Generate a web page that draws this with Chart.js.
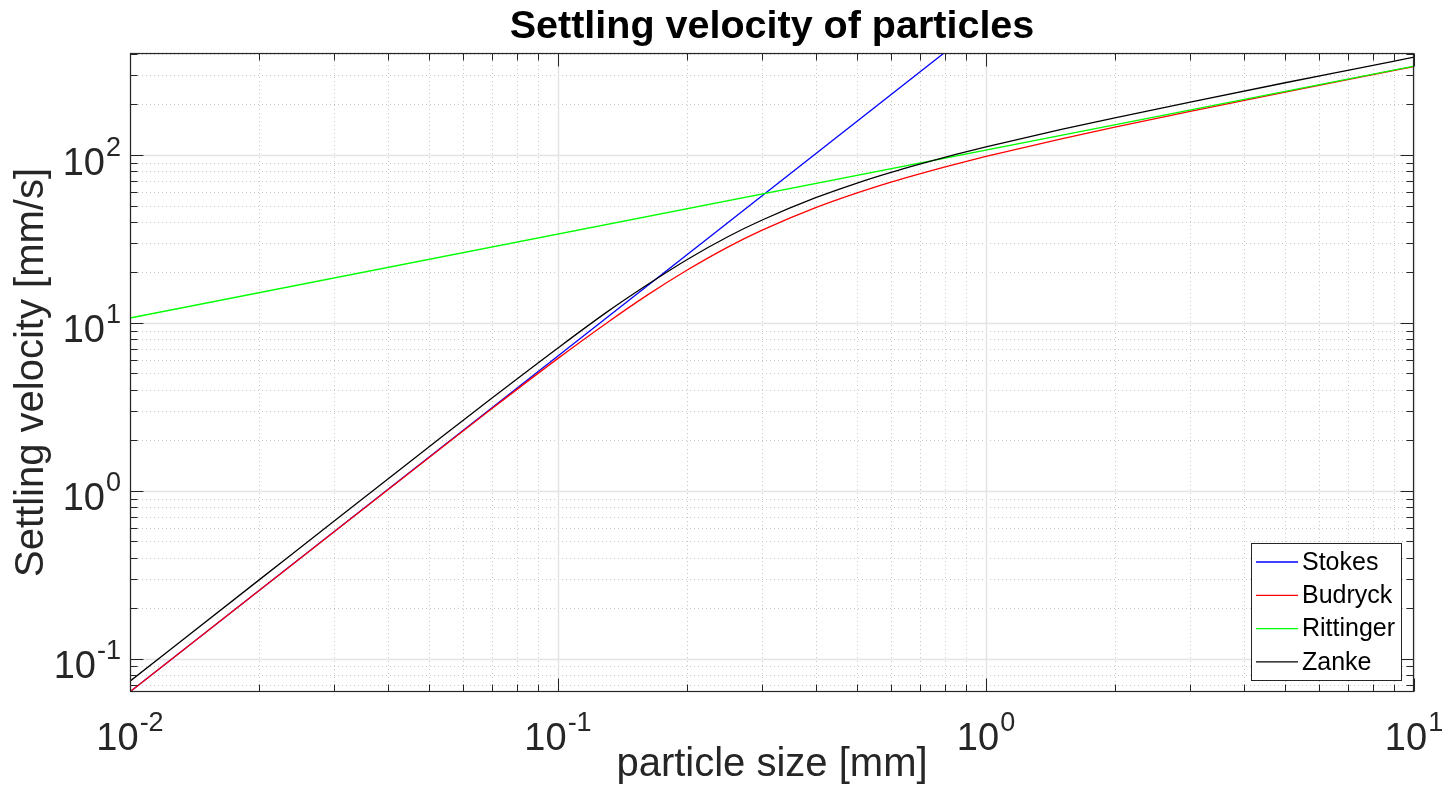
<!DOCTYPE html>
<html>
<head>
<meta charset="utf-8">
<script src="https://cdn.jsdelivr.net/npm/chart.js@4/dist/chart.umd.min.js"></script>
<style>
html,body{margin:0;padding:0;background:#ffffff;}
#wrap{width:1452px;height:809px;position:relative;}
canvas{display:block;}
</style>
</head>
<body>
<div id="wrap"><canvas id="c" width="1452" height="809"></canvas></div>
<script>
// ---------------- data ----------------
const titleText = 'Settling velocity of particles';
const xLabelText = 'particle size [mm]';
const yLabelText = 'Settling velocity [mm/s]';

const seriesNames  = ['Stokes', 'Budryck', 'Rittinger', 'Zanke'];
const seriesColors = ['#0000ff', '#ff0000', '#00ff00', '#000000'];

// particle size [mm] for the curved series
const sizes   = [0.01, 0.02, 0.03, 0.05, 0.07, 0.1, 0.13, 0.16, 0.2, 0.25, 0.3, 0.4, 0.5, 0.6, 0.7, 0.85, 1, 1.5, 2, 3, 5, 7, 10];
// settling velocity [mm/s]
const budryck = [0.0636, 0.254, 0.571, 1.58, 3.08, 6.15, 10.0, 14.4, 20.6, 28.4, 35.7, 48.6, 59.5, 69.0, 77.3, 88.3, 98.0, 124.6, 146.4, 181.7, 236.5, 280.7, 336];
const zanke   = [0.0736, 0.294, 0.662, 1.83, 3.56, 7.1, 11.6, 16.6, 23.8, 32.7, 41.0, 55.7, 68.1, 78.8, 88.2, 100.7, 111.7, 142.0, 166.6, 206.8, 269.3, 319.5, 382.6];

// straight lines on the log-log plot
const stokesSizes    = [0.01, 1];
const stokes         = [0.0636, 636];
const rittingerSizes = [0.01, 10];
const rittinger      = [10.7, 338];

// axes
const xMin = 0.01, xMax = 10;
const yMin = 0.0634, yMax = 405;
const xMajorTicks = [0.01, 0.1, 1, 10];
const xTickExps   = ['-2', '-1', '0', '1'];
const yMajorTicks = [0.1, 1, 10, 100];
const yTickExps   = ['-1', '0', '1', '2'];
const tickBase    = '10';

// ---------------- helpers ----------------
function pairs(xs, ys) { return xs.map((v, i) => ({x: v, y: ys[i]})); }

function minorValues(min, max) {
  const out = [];
  const e0 = Math.floor(Math.log10(min)), e1 = Math.ceil(Math.log10(max));
  for (let e = e0; e <= e1; e++) {
    for (let m = 2; m <= 9; m++) {
      const v = Number((m * Math.pow(10, e)).toPrecision(12));
      if (v > min && v < max) out.push(v);
    }
  }
  return out;
}

const AX = '#262626';
const FONT = '"Liberation Sans", Arial, Helvetica, sans-serif';

function drawPower(ctx, base, exp, anchorX, baseY, align) {
  ctx.font = '38px ' + FONT;
  const wb = ctx.measureText(base).width;
  ctx.font = '27px ' + FONT;
  const we = ctx.measureText(exp).width;
  const total = wb + we + 1;
  let x0 = align === 'center' ? anchorX - total / 2 : anchorX - total;
  ctx.textAlign = 'left';
  ctx.textBaseline = 'alphabetic';
  ctx.fillStyle = AX;
  ctx.font = '38px ' + FONT;
  ctx.fillText(base, x0, baseY);
  ctx.font = '27px ' + FONT;
  ctx.fillText(exp, x0 + wb + 1, baseY - 19);
}

const matlabAxes = {
  id: 'matlabAxes',
  beforeDatasetsDraw(chart) {
    const {ctx, chartArea: a, scales} = chart;
    const sx = scales.x, sy = scales.y;
    ctx.save();
    ctx.lineWidth = 1;
    // minor grid (dotted)
    ctx.strokeStyle = '#c8c8c8';
    ctx.setLineDash([1, 3]);
    minorValues(xMin, xMax).forEach(v => {
      const px = Math.round(sx.getPixelForValue(v)) + 0.5;
      ctx.beginPath(); ctx.moveTo(px, a.top); ctx.lineTo(px, a.bottom); ctx.stroke();
    });
    minorValues(yMin, yMax).forEach(v => {
      const py = Math.round(sy.getPixelForValue(v)) + 0.5;
      ctx.beginPath(); ctx.moveTo(a.left, py); ctx.lineTo(a.right, py); ctx.stroke();
    });
    // major grid (solid)
    ctx.setLineDash([]);
    ctx.strokeStyle = '#e4e4e4';
    ctx.lineWidth = 1.5;
    xMajorTicks.forEach(v => {
      const px = Math.round(sx.getPixelForValue(v)) + 0.5;
      ctx.beginPath(); ctx.moveTo(px, a.top); ctx.lineTo(px, a.bottom); ctx.stroke();
    });
    yMajorTicks.forEach(v => {
      const py = Math.round(sy.getPixelForValue(v)) + 0.5;
      ctx.beginPath(); ctx.moveTo(a.left, py); ctx.lineTo(a.right, py); ctx.stroke();
    });
    ctx.restore();
  },
  afterDatasetsDraw(chart) {
    const {ctx, chartArea: a, scales} = chart;
    const sx = scales.x, sy = scales.y;
    ctx.save();
    ctx.setLineDash([]);
    ctx.strokeStyle = AX;
    ctx.lineWidth = 1;
    const L = Math.round(a.left) + 0.5, R = Math.round(a.right) - 0.5;
    const T = Math.round(a.top) + 0.5, B = Math.round(a.bottom) - 0.5;
    // ticks (inward, all four sides)
    const tickX = (v, len) => {
      const px = Math.round(sx.getPixelForValue(v)) + 0.5;
      ctx.beginPath();
      ctx.moveTo(px, B); ctx.lineTo(px, B - len);
      ctx.moveTo(px, T); ctx.lineTo(px, T + len);
      ctx.stroke();
    };
    const tickY = (v, len) => {
      const py = Math.round(sy.getPixelForValue(v)) + 0.5;
      ctx.beginPath();
      ctx.moveTo(L, py); ctx.lineTo(L + len, py);
      ctx.moveTo(R, py); ctx.lineTo(R - len, py);
      ctx.stroke();
    };
    minorValues(xMin, xMax).forEach(v => tickX(v, 7));
    minorValues(yMin, yMax).forEach(v => tickY(v, 7));
    xMajorTicks.forEach(v => tickX(v, 13));
    yMajorTicks.forEach(v => tickY(v, 13));
    // box
    ctx.lineWidth = 1.2;
    ctx.strokeRect(L, T, R - L, B - T);

    // tick labels
    xMajorTicks.forEach((v, i) => {
      drawPower(ctx, tickBase, xTickExps[i], sx.getPixelForValue(v), a.bottom + 58, 'center');
    });
    yMajorTicks.forEach((v, i) => {
      drawPower(ctx, tickBase, yTickExps[i], a.left - 9, sy.getPixelForValue(v) + 19.5, 'right');
    });

    // title
    ctx.fillStyle = '#000000';
    ctx.font = 'bold 39.5px ' + FONT;
    ctx.textAlign = 'center';
    ctx.textBaseline = 'alphabetic';
    ctx.fillText(titleText, (a.left + a.right) / 2, 38);

    // axis labels
    ctx.fillStyle = AX;
    ctx.font = '40px ' + FONT;
    ctx.fillText(xLabelText, (a.left + a.right) / 2, 776);
    ctx.save();
    ctx.translate(43, (a.top + a.bottom) / 2);
    ctx.rotate(-Math.PI / 2);
    ctx.fillText(yLabelText, 0, 0);
    ctx.restore();

    // legend (bottom-right inside the axes)
    const lx0 = 1251.5, ly0 = 543.5, lw = 150, lh = 137;
    ctx.fillStyle = '#ffffff';
    ctx.fillRect(lx0, ly0, lw, lh);
    ctx.strokeStyle = AX;
    ctx.lineWidth = 1;
    ctx.strokeRect(lx0, ly0, lw, lh);
    ctx.font = '25px ' + FONT;
    ctx.textAlign = 'left';
    ctx.textBaseline = 'middle';
    chart.data.datasets.forEach((ds, i) => {
      const yy = 562 + i * 33.3;
      ctx.strokeStyle = ds.borderColor;
      ctx.lineWidth = 1.3;
      ctx.beginPath(); ctx.moveTo(1256, yy); ctx.lineTo(1298, yy); ctx.stroke();
      ctx.fillStyle = '#000000';
      ctx.fillText(ds.label, 1302, yy + 1);
    });
    ctx.restore();
  }
};

const datasets = [
  {label: seriesNames[0], data: pairs(stokesSizes, stokes),       borderColor: seriesColors[0], order: 3},
  {label: seriesNames[1], data: pairs(sizes, budryck),            borderColor: seriesColors[1], order: 2},
  {label: seriesNames[2], data: pairs(rittingerSizes, rittinger), borderColor: seriesColors[2], order: 1},
  {label: seriesNames[3], data: pairs(sizes, zanke),              borderColor: seriesColors[3], order: 0}
];

new Chart(document.getElementById('c').getContext('2d'), {
  type: 'line',
  data: {datasets: datasets},
  options: {
    responsive: false,
    animation: false,
    devicePixelRatio: 1,
    layout: {padding: {left: 130, right: 38, top: 53, bottom: 117}},
    plugins: {legend: {display: false}, title: {display: false}, tooltip: {enabled: false}},
    elements: {
      point: {radius: 0, hoverRadius: 0},
      line: {borderWidth: 1.3, fill: false, cubicInterpolationMode: 'monotone'}
    },
    scales: {
      x: {type: 'logarithmic', min: xMin, max: xMax, display: false},
      y: {type: 'logarithmic', min: yMin, max: yMax, display: false}
    }
  },
  plugins: [matlabAxes]
});
</script>
</body>
</html>
